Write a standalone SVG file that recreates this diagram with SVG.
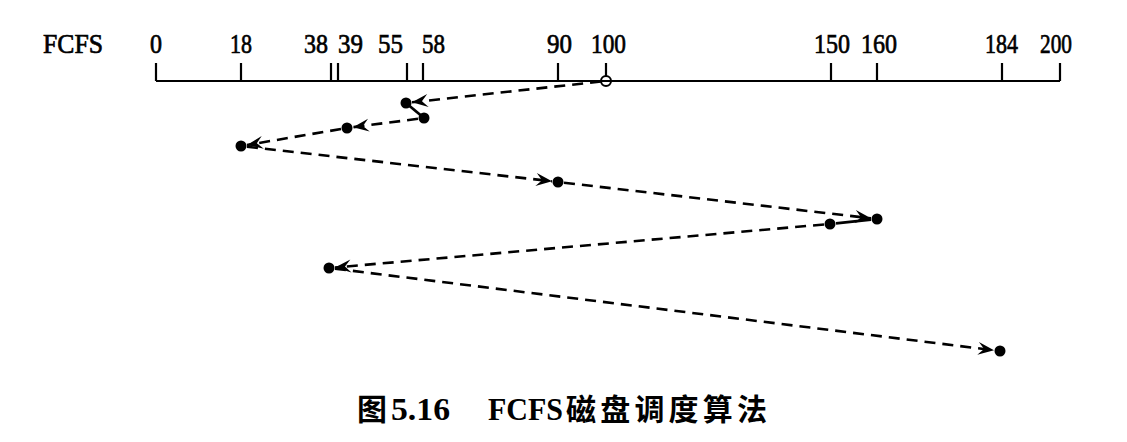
<svg xmlns="http://www.w3.org/2000/svg" width="1127" height="442" viewBox="0 0 1127 442">
<style>
.lbl{font-family:"Liberation Serif","Times New Roman",serif;font-size:28px;fill:#000;stroke:#000;stroke-width:0.7}
.ax{stroke:#000;stroke-width:2.2;fill:none}
.dash{stroke:#000;stroke-width:2.6;fill:none;stroke-dasharray:11 7}
.solid{stroke:#000;stroke-width:2.8;fill:none}
.dot{fill:#000}
.cap{font-family:"Liberation Serif","Times New Roman",serif;font-size:31px;font-weight:bold;fill:#000}
.cjk{font-family:"Noto Sans CJK SC",sans-serif;font-size:30px;font-weight:bold;fill:#000}
</style>
<defs>
<marker id="arr" viewBox="-18 -7 20 14" refX="0" refY="0" markerWidth="20" markerHeight="14" markerUnits="userSpaceOnUse" orient="auto">
<path d="M0,0 L-16,-6.5 L-10,0 L-16,6.5 Z" fill="#000"/>
</marker>
</defs>
<g id="axis">
<line class="ax" x1="156" y1="81" x2="1060" y2="81"/>
<path class="ax" d="M156,63V81 M241,63V81 M331,63V81 M338,63V81 M407,63V81 M423,63V81 M558,63V81 M606,63V76 M831,63V81 M877,63V81 M1002,63V81 M1060,63V81"/>
</g>
<g id="labels">
<text class="lbl" x="43" y="53" textLength="60" lengthAdjust="spacingAndGlyphs">FCFS</text>
<text class="lbl" x="150" y="53" textLength="12" lengthAdjust="spacingAndGlyphs">0</text>
<text class="lbl" x="230" y="53" textLength="22" lengthAdjust="spacingAndGlyphs">18</text>
<text class="lbl" x="304" y="53" textLength="24" lengthAdjust="spacingAndGlyphs">38</text>
<text class="lbl" x="338" y="53" textLength="25" lengthAdjust="spacingAndGlyphs">39</text>
<text class="lbl" x="378" y="53" textLength="25" lengthAdjust="spacingAndGlyphs">55</text>
<text class="lbl" x="422" y="53" textLength="23" lengthAdjust="spacingAndGlyphs">58</text>
<text class="lbl" x="547" y="53" textLength="25" lengthAdjust="spacingAndGlyphs">90</text>
<text class="lbl" x="591" y="53" textLength="35" lengthAdjust="spacingAndGlyphs">100</text>
<text class="lbl" x="814" y="53" textLength="36" lengthAdjust="spacingAndGlyphs">150</text>
<text class="lbl" x="861" y="53" textLength="36" lengthAdjust="spacingAndGlyphs">160</text>
<text class="lbl" x="985" y="53" textLength="33" lengthAdjust="spacingAndGlyphs">184</text>
<text class="lbl" x="1040" y="53" textLength="32" lengthAdjust="spacingAndGlyphs">200</text>
</g>
<g id="connectors">
<line class="dash" x1="601" y1="81.5" x2="412" y2="102.3" marker-end="url(#arr)"/>
<line class="solid" x1="406" y1="103" x2="424" y2="118"/>
<line class="dash" x1="418" y1="118.8" x2="353" y2="127.2" marker-end="url(#arr)"/>
<line class="dash" x1="341" y1="129" x2="247" y2="145" marker-end="url(#arr)"/>
<line class="dash" x1="247" y1="146.7" x2="552" y2="181.3" marker-end="url(#arr)"/>
<line class="dash" x1="564" y1="182.7" x2="871" y2="218.3" marker-end="url(#arr)"/>
<line class="solid" x1="871" y1="219.6" x2="836" y2="223.4"/>
<line class="dash" x1="824" y1="224.5" x2="335" y2="267.5" marker-end="url(#arr)"/>
<line class="dash" x1="335" y1="268.7" x2="994" y2="350.3" marker-end="url(#arr)"/>
</g>
<g id="n100"><circle cx="606" cy="81" r="5" fill="none" stroke="#000" stroke-width="2"/></g>
<g id="n55"><circle class="dot" cx="406" cy="103" r="5.5"/></g>
<g id="n58"><circle class="dot" cx="424" cy="118" r="5.5"/></g>
<g id="n39"><circle class="dot" cx="347" cy="128" r="5.5"/></g>
<g id="n18"><circle class="dot" cx="241" cy="146" r="5.5"/></g>
<g id="n90"><circle class="dot" cx="558" cy="182" r="5.5"/></g>
<g id="n160"><circle class="dot" cx="877" cy="219" r="5.5"/></g>
<g id="n150"><circle class="dot" cx="830" cy="224" r="5.5"/></g>
<g id="n38"><circle class="dot" cx="329" cy="268" r="5.5"/></g>
<g id="n184"><circle class="dot" cx="1000" cy="351" r="5.5"/></g>
<g id="caption">
<text class="cjk" x="357" y="420" font-size="28">图</text>
<text class="cap" x="391" y="420" textLength="59" lengthAdjust="spacingAndGlyphs">5.16</text>
<text class="cap" x="488" y="420" textLength="75" lengthAdjust="spacingAndGlyphs">FCFS</text>
<text class="cjk" x="566" y="420" textLength="201" lengthAdjust="spacing">磁盘调度算法</text>
</g>
</svg>
